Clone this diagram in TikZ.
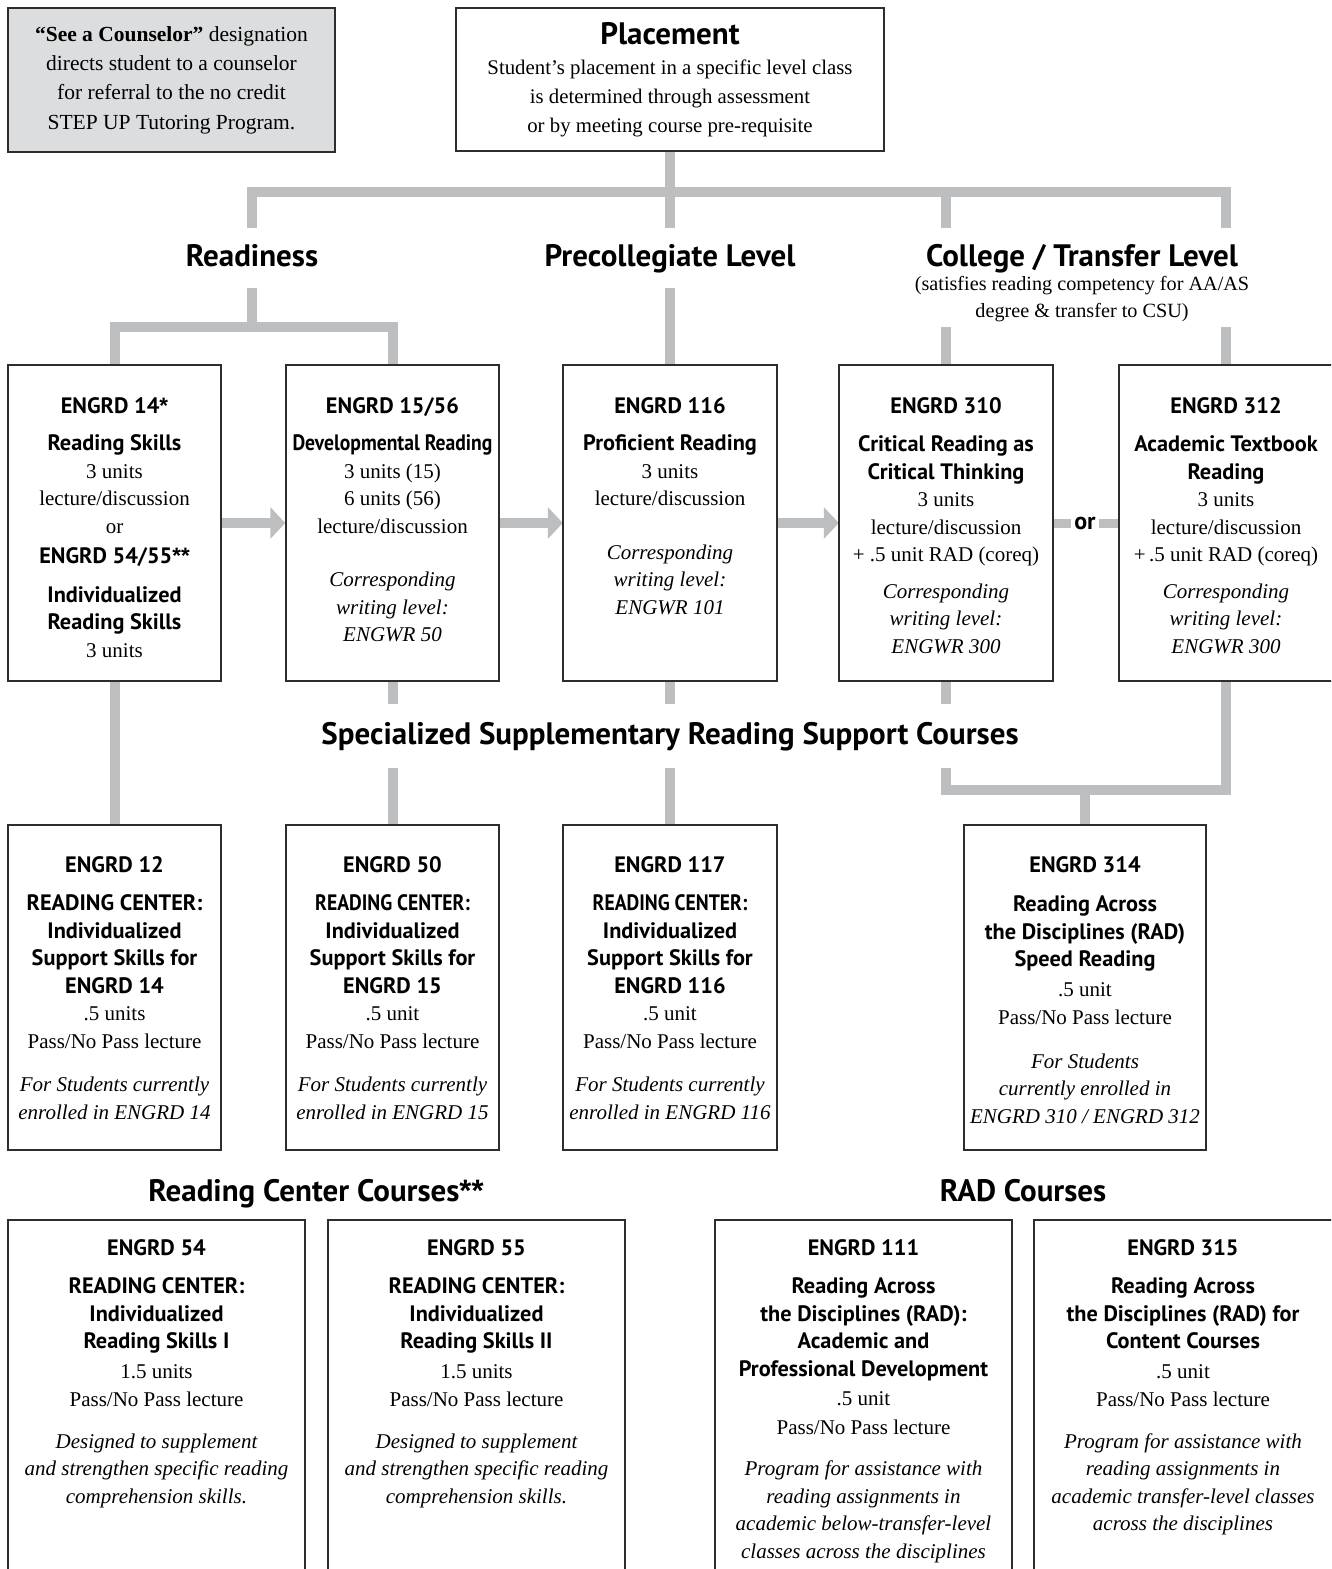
\documentclass[tikz,border=0pt]{standalone}
\usepackage{fontspec}
\setmainfont{Liberation Serif}
\newfontfamily\hdfont{PT Sans}
\newfontfamily\hdcond{PT Sans}[FakeStretch=0.88]
\newfontfamily\astfont{Liberation Sans}
\usetikzlibrary{arrows.meta}
\definecolor{linegray}{RGB}{188,190,192}
\definecolor{notegray}{RGB}{220,221,222}
\definecolor{edgec}{RGB}{45,45,45}
\newcommand\bodyf{\fontsize{21}{27.5}\selectfont}
\newcommand\crs[1]{{\hdfont\bfseries\fontsize{22.3}{27.5}\selectfont #1}}
\newcommand\subb[1]{{\hdfont\bfseries\fontsize{22.3}{27.5}\selectfont #1}}
\newcommand\subc[1]{{\hdcond\bfseries\fontsize{22.3}{27.5}\selectfont #1}}
\newcommand\itl[1]{{\itshape #1}}
\newcommand\myast{{\astfont\bfseries *}}
\begin{document}
\begin{tikzpicture}[x=1pt,y=-1pt,
  box/.style={draw=edgec, line width=1.4pt, fill=white, inner sep=0pt},
  txt/.style={align=center, inner sep=0pt, anchor=north, font=\bodyf},
  conn/.style={draw=linegray, line width=10pt},
  orbar/.style={draw=linegray, line width=9pt},
  arr/.style={draw=linegray, line width=10pt, -{Triangle[length=15pt,width=31pt]}},
  head/.style={inner sep=0pt, font=\hdfont\bfseries\fontsize{31}{35}\selectfont, text height=22pt, text depth=6pt, minimum height=60pt},
  headsm/.style={inner sep=0pt, font=\hdfont\bfseries\fontsize{31}{35}\selectfont, text height=22pt, text depth=6pt, minimum height=63pt},
]
\clip (0,0) rectangle (1331,1569);
\fill[white] (0,0) rectangle (1331,1569);

% ---------- top notes ----------
\node[draw=edgec, line width=1.4pt, fill=notegray, minimum width=327pt, minimum height=144pt, align=center, inner sep=0pt,
  font=\fontsize{21.5}{29.3}\selectfont] (counsel) at (171.5,80)
  {{\bfseries “See a Counselor”} designation\\directs student to a counselor\\for referral to the no credit\\STEP UP Tutoring Program.};

\node[box, minimum width=428pt, minimum height=143pt, align=center, font=\fontsize{20.8}{29}\selectfont] (place) at (670,79.5)
  {{\hdfont\bfseries\fontsize{31}{34}\selectfont Placement}\\[1pt]
   Student’s placement in a specific level class\\is determined through assessment\\or by meeting course pre-requisite};

% ---------- headings ----------
\node[head] (hRead) at (252,258) {Readiness};
\node[head] (hPre) at (670,258) {Precollegiate Level};
\node[head] (hCol) at (1082,258) {College / Transfer Level};
\node[align=center, inner sep=0pt, inner ysep=5pt, font=\fontsize{20.2}{27}\selectfont] (hColSub) at (1082,299)
  {(satisfies reading competency for AA/AS\\degree \& transfer to CSU)};
\node[headsm] (hSpec) at (670,736) {Specialized Supplementary Reading Support Courses};
\node[head] (hRC) at (316,1193) {Reading Center Courses\myast\myast};
\node[head] (hRAD) at (1023,1193) {RAD Courses};

% ---------- boxes (shapes) ----------
\node[box, minimum width=213pt, minimum height=316pt] (b14)   at (114.5,523) {};
\node[box, minimum width=213pt, minimum height=316pt] (b1556) at (392.5,523) {};
\node[box, minimum width=213pt, minimum height=316pt] (b116)  at (670,523) {};
\node[box, minimum width=213pt, minimum height=316pt] (b310)  at (946,523) {};
\node[box, minimum width=213pt, minimum height=316pt] (b312)  at (1226,523) {};

\node[box, minimum width=213pt, minimum height=325pt] (b12)  at (114.5,987.5) {};
\node[box, minimum width=213pt, minimum height=325pt] (b50)  at (392.5,987.5) {};
\node[box, minimum width=213pt, minimum height=325pt] (b117) at (670,987.5) {};
\node[box, minimum width=242pt, minimum height=325pt] (b314) at (1085,987.5) {};

\node[box, minimum width=297pt, minimum height=400pt] (b54)  at (156.5,1420) {};
\node[box, minimum width=297pt, minimum height=400pt] (b55)  at (476.5,1420) {};
\node[box, minimum width=297pt, minimum height=400pt] (b111) at (863.5,1420) {};
\node[box, minimum width=299pt, minimum height=400pt] (b315) at (1183.5,1420) {};

% ---------- connectors ----------
\coordinate (jT) at (670,192);
\coordinate (jR) at (252,327);
\coordinate (jS) at (1085,790);
\draw[conn] (place.south) -- (hPre.north);
\draw[conn] (hRead.north) -- (hRead.north |- jT) -- (b312.north |- jT) -- (b312.north |- hRead.north);
\draw[conn] (b310.north |- jT) -- (b310.north |- hRead.north);
\draw[conn] (hRead.south) -- (jR);
\draw[conn] (b14.north) -- (b14.north |- jR) -- (b1556.north |- jR) -- (b1556.north);
\draw[conn] (hPre.south) -- (b116.north);
\draw[conn] (b310.north |- hColSub.south) -- (b310.north);
\draw[conn] (b312.north |- hColSub.south) -- (b312.north);

\draw[conn] (b14.south) -- (b12.north);
\draw[conn] (b1556.south) -- (b1556.south |- hSpec.north);
\draw[conn] (b1556.south |- hSpec.south) -- (b50.north);
\draw[conn] (b116.south) -- (b116.south |- hSpec.north);
\draw[conn] (b116.south |- hSpec.south) -- (b117.north);
\draw[conn] (b310.south) -- (b310.south |- hSpec.north);
\draw[conn] (b310.south |- hSpec.south) -- (b310.south |- jS) -- (b312.south |- jS) -- (b312.south);
\draw[conn] (jS) -- (b314.north);

\draw[arr] (b14.east) -- (b1556.west);
\draw[arr] (b1556.east) -- (b116.west);
\draw[arr] (b116.east) -- (b310.west);
\node[inner xsep=3pt, inner ysep=0pt, font=\hdfont\bfseries\fontsize{24}{28}\selectfont] (or) at (1085,523) {or};
\draw[orbar] (b310.east) -- (b310.east -| or.west);
\draw[orbar] (b312.west -| or.east) -- (b312.west);

% redraw box outlines over connector ends
\foreach \b in {b14,b1556,b116,b310,b312,b12,b50,b117,b314,b54,b55,b111,b315}
  \draw[draw=edgec, line width=1.4pt] (\b.north west) rectangle (\b.south east);

% ---------- box texts ----------
\node[txt] (t14) at (114.5,397) {\crs{ENGRD 14\myast}\\[10pt]\subb{Reading Skills}\\3 units\\lecture/discussion\\or\\[3pt]\crs{ENGRD 54/55\myast\myast}\\[11pt]\subb{Individualized}\\\subb{Reading Skills}\\3 units};
\node[txt] (t1556) at (392.5,397) {\crs{ENGRD 15/56}\\[10pt]\subc{Developmental Reading}\\3 units (15)\\6 units (56)\\lecture/discussion\\[26pt]\itl{Corresponding}\\\itl{writing level:}\\\itl{ENGWR 50}};
\node[txt] (t116) at (670,397) {\crs{ENGRD 116}\\[10pt]\subb{Proficient Reading}\\3 units\\lecture/discussion\\[26pt]\itl{Corresponding}\\\itl{writing level:}\\\itl{ENGWR 101}};
\node[txt] (t310) at (946,397) {\crs{ENGRD 310}\\[11pt]\subb{Critical Reading as}\\\subb{Critical Thinking}\\3 units\\lecture/discussion\\+ .5 unit RAD (coreq)\\[9pt]\itl{Corresponding}\\\itl{writing level:}\\\itl{ENGWR 300}};
\node[txt] (t312) at (1226,397) {\crs{ENGRD 312}\\[11pt]\subb{Academic Textbook}\\\subb{Reading}\\3 units\\lecture/discussion\\+\,.5 unit RAD (coreq)\\[9pt]\itl{Corresponding}\\\itl{writing level:}\\\itl{ENGWR 300}};

\node[txt] (t12) at (114.5,856) {\crs{ENGRD 12}\\[11pt]\subb{READING CENTER:}\\\subb{Individualized}\\\subb{Support Skills for}\\\subb{ENGRD 14}\\.5 units\\Pass/No Pass lecture\\[16pt]\itl{For Students currently}\\\itl{enrolled in ENGRD 14}};
\node[txt] (t50) at (392.5,856) {\crs{ENGRD 50}\\[11pt]\subc{READING CENTER:}\\\subb{Individualized}\\\subb{Support Skills for}\\\subb{ENGRD 15}\\.5 unit\\Pass/No Pass lecture\\[16pt]\itl{For Students currently}\\\itl{enrolled in ENGRD 15}};
\node[txt] (t117) at (670,856) {\crs{ENGRD 117}\\[11pt]\subc{READING CENTER:}\\\subb{Individualized}\\\subb{Support Skills for}\\\subb{ENGRD 116}\\.5 unit\\Pass/No Pass lecture\\[16pt]\itl{For Students currently}\\\itl{enrolled in ENGRD 116}};
\node[txt] (t314) at (1085,856) {\crs{ENGRD 314}\\[12pt]\subb{Reading Across}\\\subb{the Disciplines (RAD)}\\\subb{Speed Reading}\\[2pt].5 unit\\[1pt]Pass/No Pass lecture\\[16pt]\itl{For Students}\\\itl{currently enrolled in}\\\itl{ENGRD 310 / ENGRD 312}};

\node[txt] (t54) at (156.5,1239) {\crs{ENGRD 54}\\[11pt]\subb{READING CENTER:}\\\subb{Individualized}\\\subb{Reading Skills I}\\[2pt]1.5 units\\[1pt]Pass/No Pass lecture\\[14pt]\itl{Designed to supplement}\\\itl{and strengthen specific reading}\\\itl{comprehension skills.}};
\node[txt] (t55) at (476.5,1239) {\crs{ENGRD 55}\\[11pt]\subb{READING CENTER:}\\\subb{Individualized}\\\subb{Reading Skills II}\\[2pt]1.5 units\\[1pt]Pass/No Pass lecture\\[14pt]\itl{Designed to supplement}\\\itl{and strengthen specific reading}\\\itl{comprehension skills.}};
\node[txt] (t111) at (863.5,1239) {\crs{ENGRD 111}\\[11pt]\subb{Reading Across}\\\subb{the Disciplines (RAD):}\\\subb{Academic and}\\\subb{Professional Development}\\[2pt].5 unit\\[1pt]Pass/No Pass lecture\\[14pt]\itl{Program for assistance with}\\\itl{reading assignments in}\\\itl{academic below-transfer-level}\\\itl{classes across the disciplines}};
\node[txt] (t315) at (1183,1239) {\crs{ENGRD 315}\\[11pt]\subb{Reading Across}\\\subb{the Disciplines (RAD) for}\\\subb{Content Courses}\\[2pt].5 unit\\[1pt]Pass/No Pass lecture\\[14pt]\itl{Program for assistance with}\\\itl{reading assignments in}\\\itl{academic transfer-level classes}\\\itl{across the disciplines}};
\end{tikzpicture}
\end{document}
